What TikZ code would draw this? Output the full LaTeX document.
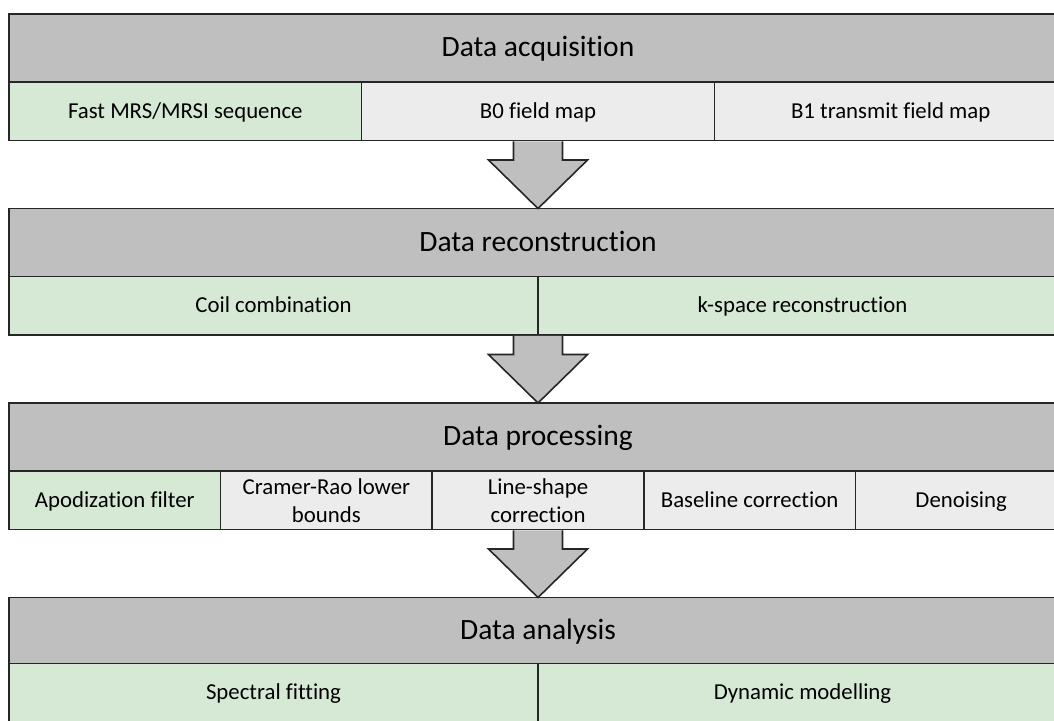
\documentclass[tikz,border=0pt]{standalone}
\usepackage{fontspec}
\setmainfont[Ligatures=NoCommon]{Carlito}
\usetikzlibrary{positioning,calc}

\definecolor{stagegray}{RGB}{191,191,191}
\definecolor{keygreen}{RGB}{214,233,213}
\definecolor{cellgray}{RGB}{236,236,236}

\tikzset{
	box/.style={draw=black!85, line width=1.6pt, outer sep=0pt, inner sep=0pt, align=center},
	stage/.style={box, fill=stagegray, anchor=north west, minimum width=1058, minimum height=68,
		text height=21pt, text depth=3.3pt, font=\fontsize{29.5}{35}\selectfont},
	cell/.style={box, fill=cellgray, minimum height=58.5, font=\fontsize{22.8}{28}\selectfont},
	oneline/.style={text height=16.2pt, text depth=2.5pt},
	keycell/.style={cell, fill=keygreen},
	stagearrow/.style={draw=black!85, line width=1.6pt, fill=stagegray, line join=miter},
}

% block arrow from the bottom of one stage (#1) to the top of the next (#2)
\newcommand{\stagedown}[2]{%
	\draw[stagearrow] ($(#1)+(-24.5,0.8)$) -- ++(0,18.7) -- ++(-25,0) -- (#2)
		-- ($(#1)+(49.5,19.5)$) -- ++(-25,0) -- ($(#1)+(24.5,0.8)$);
}

\begin{document}
\begin{tikzpicture}[x=1pt, y=-1pt]
		\newcommand{\third}{352.67}
		\newcommand{\fifth}{211.6}
		\newcommand{\half}{529}
		\clip (0,0) rectangle (1054,720);

		% acquisition
		\node[stage] (acq) at (9,14) {Data acquisition};
		\node[keycell, oneline, anchor=north west, minimum width=\third] (fastseq) at (acq.south west) {Fast MRS/MRSI sequence};
		\node[cell, oneline, minimum width=\third, right=0pt of fastseq] (bzero) {B0 field map};
		\node[cell, oneline, minimum width=\third, right=0pt of bzero] (bone) {B1 transmit field map};

		% reconstruction
		\node[stage] (recon) at (9,208.5) {Data reconstruction};
		\node[keycell, oneline, anchor=north west, minimum width=\half] (coil) at (recon.south west) {Coil combination};
		\node[keycell, oneline, minimum width=\half, right=0pt of coil] (kspace) {k-space reconstruction};

		% processing
		\node[stage] (proc) at (9,403) {Data processing};
		\node[keycell, oneline, anchor=north west, minimum width=\fifth] (apod) at (proc.south west) {Apodization filter};
		\node[cell, minimum width=\fifth, right=0pt of apod] (crlb) {Cramer-Rao lower\\bounds};
		\node[cell, minimum width=\fifth, right=0pt of crlb] (lineshape) {Line-shape\\correction};
		\node[cell, oneline, minimum width=\fifth, right=0pt of lineshape] (baseline) {Baseline correction};
		\node[cell, oneline, minimum width=\fifth, right=0pt of baseline] (denoise) {Denoising};

		% analysis
		\node[stage, minimum height=66] (ana) at (9,597.5) {Data analysis};
		\node[keycell, oneline, anchor=north west, minimum width=\half] (fitting) at (ana.south west) {Spectral fitting};
		\node[keycell, oneline, minimum width=\half, right=0pt of fitting] (dynamic) {Dynamic modelling};

		%\node at (acq.south) {};
		\stagedown{acq.south |- fastseq.south}{recon.north}
		\stagedown{recon.south |- coil.south}{proc.north}
		\stagedown{proc.south |- apod.south}{ana.north}
\end{tikzpicture}
\end{document}
